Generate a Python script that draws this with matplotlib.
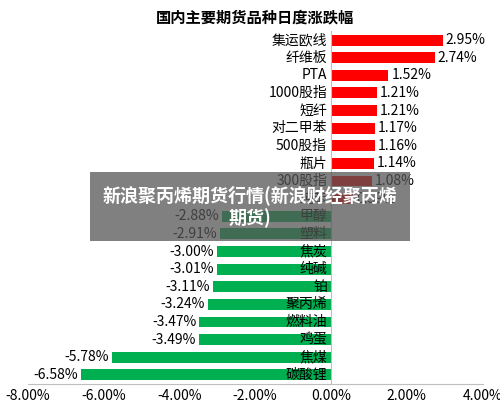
import matplotlib.pyplot as plt

plt.rcParams['font.family'] = ['Noto Sans CJK SC', 'DejaVu Sans']

names = ['集运欧线', '纤维板', 'PTA', '1000股指', '短纤', '对二甲苯', '500股指', '瓶片', '300股指', '纯苯',
         '甲醇', '塑料', '焦炭', '纯碱', '铂', '聚丙烯', '燃料油', '鸡蛋', '焦煤', '碳酸锂']
values = [2.95, 2.74, 1.52, 1.21, 1.21, 1.17, 1.16, 1.14, 1.08, 0.59,
          -2.88, -2.91, -3.00, -3.01, -3.11, -3.24, -3.47, -3.49, -5.78, -6.58]
ticks = [-8, -6, -4, -2, 0, 2, 4]

fig, ax = plt.subplots(figsize=(5, 4.17), dpi=100)
fig.subplots_adjust(left=0.055, right=0.965, top=0.925, bottom=0.08)

y = list(range(len(names)))
colors = ['#ff0000' if v > 0 else '#00b050' for v in values]
ax.barh(y, values, height=0.62, color=colors)
for yi, v, n in zip(y, values, names):
    ax.text(-0.1, yi, n, ha='right', va='center', fontsize=10)
    if v > 0:
        ax.text(v + 0.08, yi, f'{v:.2f}%', ha='left', va='center', fontsize=10)
    else:
        ax.text(v - 0.08, yi, f'{v:.2f}%', ha='right', va='center', fontsize=10)

ax.axvline(0, color='#bfbfbf', lw=0.8)
ax.set_ylim(len(names) - 0.5, -0.5)
ax.set_xlim(-8, 4)
ax.set_xticks(ticks)
ax.set_xticklabels([f'{t:.2f}%' for t in ticks], fontsize=10)
ax.set_yticks([])
for s in ['top', 'right', 'left']:
    ax.spines[s].set_visible(False)
ax.spines['bottom'].set_color('#bfbfbf')
ax.tick_params(axis='x', length=0)
ax.set_title('国内主要期货品种日度涨跌幅', fontsize=11, fontweight='bold', pad=6)

fig.text(0.5, 0.505, '新浪聚丙烯期货行情(新浪财经聚丙烯\n期货)', ha='center', va='center',
         fontsize=13, fontweight='bold', color='white',
         bbox=dict(boxstyle='square,pad=0.7', fc='#555555', ec='none', alpha=0.75))

fig.savefig('out.png')
